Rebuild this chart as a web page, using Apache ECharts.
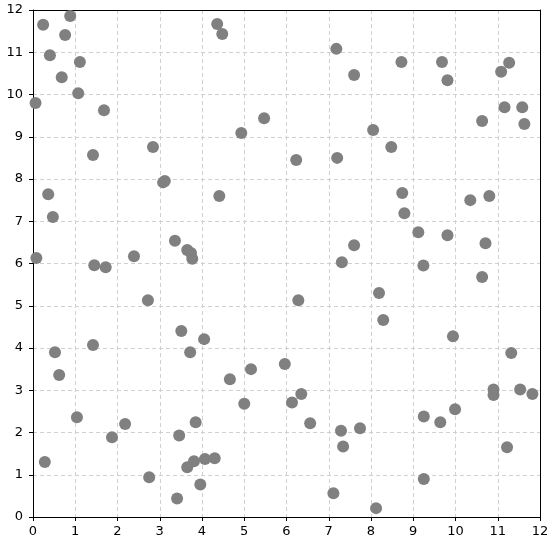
<!DOCTYPE html>
<html><head><meta charset="utf-8">
<script src="https://cdn.jsdelivr.net/npm/echarts@6/dist/echarts.min.js"></script>
<style>html,body{margin:0;padding:0;background:#fff}#c{width:553px;height:546px}</style>
</head><body><div id="c"></div>
<script>
const xValues = [0.24,0.88,0.40,0.76,0.68,1.11,1.07,0.06,1.68,1.42,2.84,3.08,3.12,0.36,0.47,0.08,1.45,1.72,2.39,3.36,3.65,3.74,3.77,4.36,4.48,4.41,4.93,5.47,
7.18,8.72,9.68,7.60,9.81,11.27,11.08,11.16,11.58,10.63,11.63,8.05,8.48,6.23,7.20,8.74,8.79,10.35,10.80,9.12,9.81,10.71,7.60,7.31,9.24,
10.63,8.19,6.28,8.29,9.94,11.32,5.96,10.90,10.90,11.53,11.82,6.35,6.13,9.99,9.25,9.64,6.56,7.29,7.74,7.34,11.22,9.25,7.11,8.12,
2.72,3.51,4.05,1.42,0.52,3.72,0.62,5.16,4.66,5.00,1.04,2.18,3.85,1.87,3.46,0.28,3.81,4.07,4.30,3.65,2.75,3.96,3.41];
const yValues = [11.65,11.86,10.93,11.41,10.41,10.77,10.03,9.80,9.63,8.57,8.76,7.92,7.95,7.64,7.10,6.13,5.96,5.91,6.17,6.54,6.32,6.25,6.11,11.67,11.43,7.60,9.09,9.44,
11.08,10.77,10.77,10.46,10.34,10.75,10.54,9.70,9.70,9.37,9.30,9.16,8.76,8.45,8.50,7.67,7.19,7.50,7.60,6.74,6.67,6.48,6.43,6.03,5.95,
5.68,5.30,5.13,4.66,4.28,3.88,3.62,3.02,2.89,3.02,2.91,2.91,2.71,2.55,2.38,2.24,2.22,2.04,2.10,1.67,1.65,0.90,0.56,0.21,
5.13,4.40,4.21,4.07,3.90,3.90,3.36,3.50,3.26,2.68,2.36,2.20,2.24,1.89,1.93,1.30,1.32,1.37,1.39,1.18,0.94,0.77,0.44];
const points = xValues.map((x,i)=>[x,yValues[i]]);
const chart = echarts.init(document.getElementById('c'));
const axisCommon = {
  min:0,max:12,interval:1,
  axisLine:{show:true,onZero:false,lineStyle:{color:'#000',width:1}},
  axisTick:{show:true,length:4,inside:false,lineStyle:{color:'#000'}},
  axisLabel:{color:'#000',fontSize:13,fontFamily:'DejaVu Sans'},
  splitLine:{show:true,showMinLine:false,showMaxLine:false,lineStyle:{color:'#d0d0d0',type:[4,3],width:1}}
};
const boxAxis = {type:'value',min:0,max:12,interval:1,
  axisLine:{show:true,onZero:false,lineStyle:{color:'#000',width:1}},
  axisTick:{show:false},axisLabel:{show:false},splitLine:{show:false}};
chart.setOption({
  animation:false,
  grid:{left:33,right:13,top:10,bottom:29,show:false,containLabel:false},
  xAxis:[Object.assign({type:'value',position:'bottom'},axisCommon,{axisLabel:Object.assign({},axisCommon.axisLabel,{margin:8})}),
         Object.assign({position:'top'},boxAxis)],
  yAxis:[Object.assign({type:'value',position:'left'},axisCommon,{axisLabel:Object.assign({},axisCommon.axisLabel,{margin:10})}),
         Object.assign({position:'right'},boxAxis)],
  series:[{type:'scatter',xAxisIndex:0,yAxisIndex:0,data:points,symbolSize:12,itemStyle:{color:'#808080',opacity:1}}]
});
</script></body></html>
